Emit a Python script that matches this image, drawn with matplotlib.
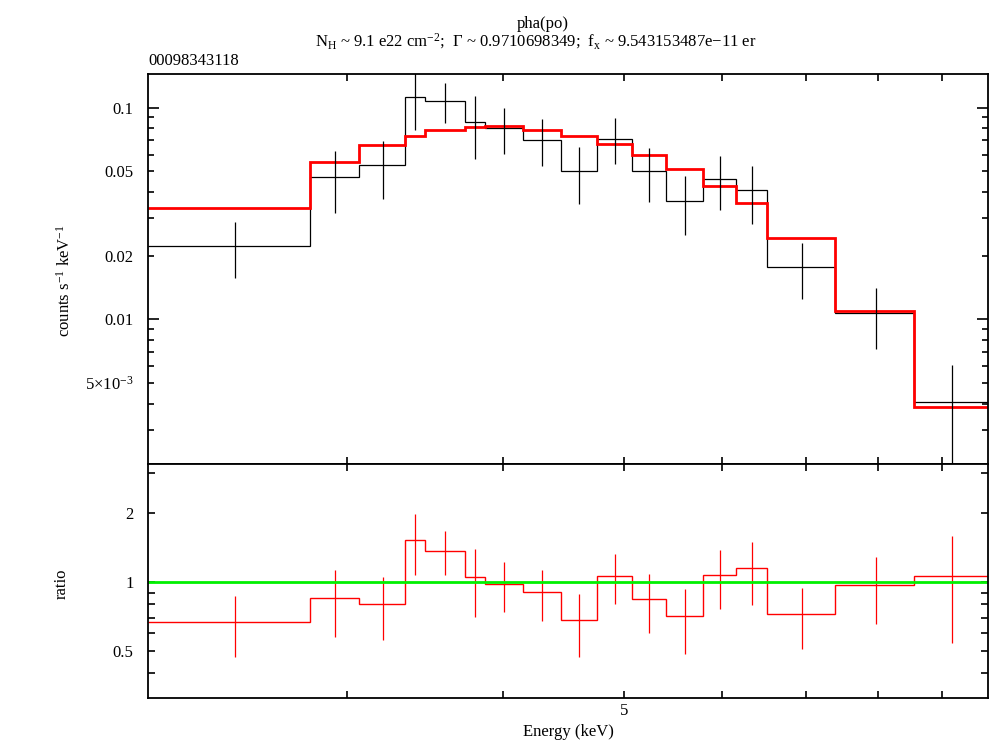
import numpy as np
import matplotlib
matplotlib.use("Agg")
import matplotlib.pyplot as plt
from matplotlib.ticker import FixedLocator, NullFormatter, FuncFormatter

plt.rcParams['font.family'] = ['Liberation Serif', 'DejaVu Serif']
plt.rcParams['mathtext.fontset'] = 'custom'
plt.rcParams['mathtext.rm'] = 'Liberation Serif'
plt.rcParams['mathtext.it'] = 'Liberation Serif:italic'
plt.rcParams['font.size'] = 12

# bin edges (keV)
edges = [2.078, 2.800, 3.069, 3.339, 3.467, 3.730, 3.868, 4.150, 4.451, 4.761,
         5.078, 5.403, 5.793, 6.152, 6.511, 7.383, 8.543, 9.797]

# counts s^-1 keV^-1, data and model
data = [0.0223, 0.0471, 0.0534, 0.1120, 0.1072, 0.0859, 0.0805, 0.0706, 0.0502,
        0.0714, 0.0502, 0.0362, 0.0460, 0.0407, 0.01762, 0.01069, 0.004085]
data_hi = [0.0287, 0.0626, 0.0699, 0.148, 0.1304, 0.1139, 0.0994, 0.0884, 0.0652,
           0.0891, 0.0643, 0.0476, 0.0589, 0.0530, 0.0230, 0.01406, 0.00609]
data_lo = [0.01569, 0.0319, 0.0370, 0.0787, 0.0844, 0.0574, 0.0603, 0.0529, 0.0350,
           0.0542, 0.0357, 0.0250, 0.0328, 0.0283, 0.01245, 0.00722, 0.0015]
model = [0.0335, 0.0556, 0.0666, 0.0733, 0.0787, 0.0813, 0.0820, 0.0787, 0.0737,
         0.0676, 0.0598, 0.0515, 0.0428, 0.0356, 0.0243, 0.01096, 0.003857]

# data / model
ratio = [0.669, 0.849, 0.801, 1.531, 1.370, 1.048, 0.980, 0.902, 0.680,
         1.066, 0.840, 0.708, 1.069, 1.147, 0.723, 0.967, 1.066]
ratio_hi = [0.866, 1.128, 1.048, 1.98, 1.664, 1.393, 1.219, 1.128, 0.886,
            1.321, 1.080, 0.929, 1.380, 1.495, 0.942, 1.282, 1.588]
ratio_lo = [0.472, 0.575, 0.556, 1.076, 1.076, 0.706, 0.737, 0.674, 0.472,
            0.804, 0.601, 0.486, 0.765, 0.796, 0.508, 0.653, 0.540]

edges = np.array(edges)
centers = 0.5 * (edges[:-1] + edges[1:])
data = np.array(data)
ratio = np.array(ratio)

fig = plt.figure(figsize=(9.9, 7.42), dpi=100)
W, H = 990.0, 742.0
ax = fig.add_axes([148 / W, 1 - 463.7 / H, 840 / W, 389.7 / H])
ax2 = fig.add_axes([148 / W, 1 - 697.7 / H, 840 / W, 234 / H], sharex=ax)

# top panel
ax.stairs(data, edges, color='black', lw=0.9, baseline=None)
ax.errorbar(centers, data, yerr=[data - np.array(data_lo), np.array(data_hi) - data],
            fmt='none', ecolor='black', elinewidth=0.9)
ax.stairs(model, edges, color='red', lw=2, baseline=None)
ax.set_xscale('log')
ax.set_yscale('log')
ax.set_xlim(2.078, 9.797)
ax.set_ylim(0.002082, 0.1442)
ax.set_ylabel(r'counts s$^{-1}$ keV$^{-1}$')
ax.yaxis.set_label_coords(74 / W, 1 - 281 / H, transform=fig.transFigure)

ax.yaxis.set_major_locator(FixedLocator([0.01, 0.1]))
ax.yaxis.set_major_formatter(FuncFormatter(lambda v, p: {0.01: '0.01', 0.1: '0.1'}.get(round(v, 4), '')))
minors = [m * d for d in (0.001, 0.01) for m in range(2, 10)]
ax.yaxis.set_minor_locator(FixedLocator(minors))
ylab = {0.005: r'5$\times$10$^{-3}$', 0.02: '0.02', 0.05: '0.05'}
ax.yaxis.set_minor_formatter(FuncFormatter(lambda v, p: ylab.get(round(v, 4), '')))

# bottom panel
ax2.stairs(ratio, edges, color='red', lw=1, baseline=None)
ax2.errorbar(centers, ratio, yerr=[ratio - np.array(ratio_lo), np.array(ratio_hi) - ratio],
             fmt='none', ecolor='red', elinewidth=0.9)
ax2.axhline(1.0, color='#00f000', lw=2)
ax2.set_yscale('log')
ax2.set_ylim(0.3126, 3.286)
ax2.set_ylabel('ratio')
ax2.yaxis.set_label_coords(70 / W, 1 - 584 / H, transform=fig.transFigure)
ax2.set_xlabel('Energy (keV)', labelpad=4)
ax2.yaxis.set_major_locator(FixedLocator([0.5, 1, 2]))
ax2.yaxis.set_major_formatter(FuncFormatter(lambda v, p: '%g' % v))
ax2.yaxis.set_minor_locator(FixedLocator([0.4, 0.6, 0.7, 0.8, 0.9, 3]))
ax2.yaxis.set_minor_formatter(NullFormatter())

for a in (ax, ax2):
    a.xaxis.set_major_locator(FixedLocator([5]))
    a.xaxis.set_minor_locator(FixedLocator([3, 4, 6, 7, 8, 9]))
    a.xaxis.set_minor_formatter(NullFormatter())
    a.tick_params(which='both', direction='in', top=True, right=True, width=1.2)
    a.tick_params(axis='y', which='major', length=8, pad=10.5)
    a.tick_params(axis='y', which='minor', length=4, pad=10.5)
    a.tick_params(axis='x', which='both', length=5)
    for s in a.spines.values():
        s.set_linewidth(1.3)
ax2.xaxis.set_major_formatter(FuncFormatter(lambda v, p: '%g' % v))
ax.tick_params(axis='x', which='both', labelbottom=False)
ax2.tick_params(axis='y', which='both', length=5)

fig.text(543 / W, 1 - 24 / H, 'pha(po)', ha='center', va='center')
fig.text(536 / W, 1 - 41 / H,
         r'N$_{\rm H}$ ~ 9.1 e22 cm$^{-2}$;  $\Gamma$ ~ 0.9710698349;  f$_{\rm x}$ ~ 9.543153487e$-$11 er',
         ha='center', va='center')
fig.text(148 / W, 1 - 61 / H, '00098343118', ha='left', va='center')

fig.savefig('out.png', dpi=100)
